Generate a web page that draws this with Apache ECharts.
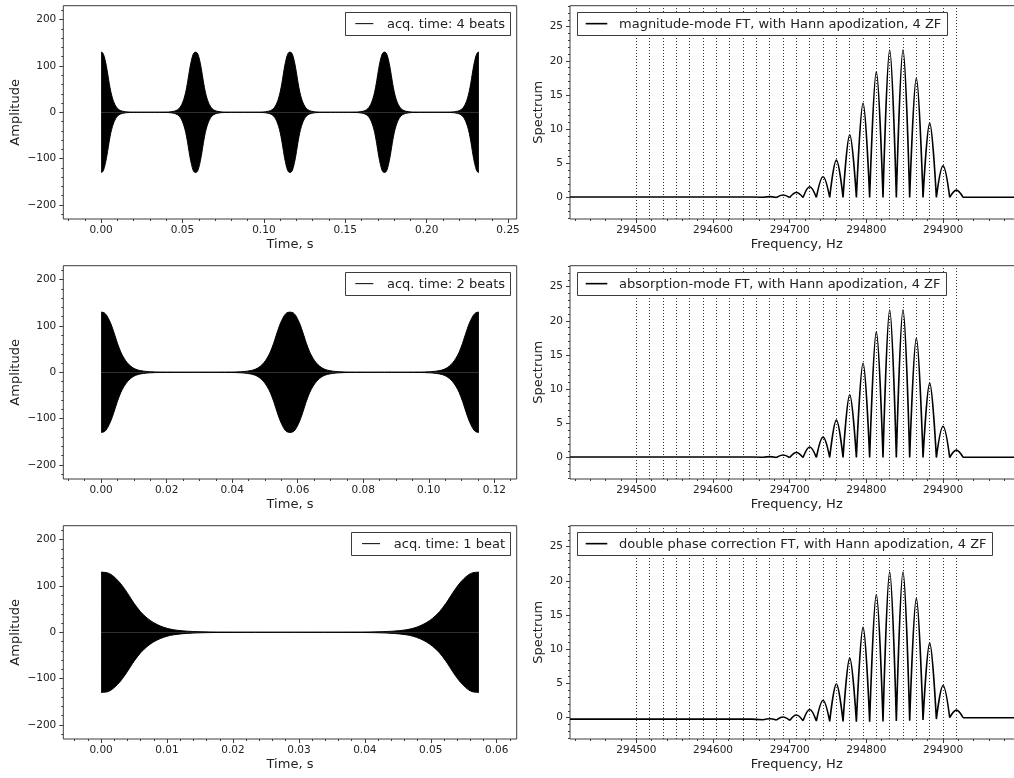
<!DOCTYPE html>
<html>
<head>
<meta charset="utf-8">
<script src="https://cdn.jsdelivr.net/npm/echarts@6/dist/echarts.min.js"></script>
<style>
  html, body { margin: 0; padding: 0; overflow: hidden; background: #fff; }
  #chart { width: 1030px; height: 778px; }
</style>
</head>
<body>
<div id="chart"></div>
<script>
// ---- time-domain transients -------------------------------------------
const TIME_BEATS = [4, 2, 1];
const TIME_ACQ = [0.2321, 0.1153, 0.0573];          // acquisition length, s
const TIME_LABELS = ['acq. time: 4 beats', 'acq. time: 2 beats', 'acq. time: 1 beat'];
const TIME_TICKS = [
  [0, 0.05, 0.10, 0.15, 0.20, 0.25],
  [0, 0.02, 0.04, 0.06, 0.08, 0.10, 0.12],
  [0, 0.01, 0.02, 0.03, 0.04, 0.05, 0.06]
];
const TIME_MINOR_STEP = [0.01, 0.005, 0.002];
const AMP_TICKS = [-200, -100, 0, 100, 200];

// envelope of one beat: offset from the beat centre (ms) and amplitude
const PULSE_MS  = [0, 0.5, 1, 1.5, 2, 2.5, 3, 3.5, 4, 4.5, 5, 6, 7, 8, 9, 10, 11, 12, 13, 15, 18, 22, 28];
const PULSE_AMP = [130, 129.5, 128.3, 125, 119.5, 112.5, 104.5, 95, 84.5, 73.5, 62.5, 44, 30.5, 20.5, 13.5, 8.5, 5.5, 3.6, 2.4, 1.1, 0.4, 0.2, 0.1];

// ---- spectra -------------------------------------------------------------
const DOT_FREQS = [294500, 294517.4, 294534.8, 294552.2, 294569.6, 294587.0, 294604.3, 294621.7,
  294639.1, 294656.5, 294673.9, 294691.3, 294708.7, 294726.1, 294743.5, 294760.9, 294778.3,
  294795.7, 294813.0, 294830.4, 294847.8, 294865.2, 294882.6, 294900.0, 294917.4];

// flat start, then alternating trough / peak, then flat end
const SPEC_FREQ = [294413.5, 294500, 294600, 294650, 294665.2,
  294673.9, 294682.6, 294691.3, 294700.0, 294708.7, 294717.4, 294726.1, 294734.8,
  294743.5, 294752.2, 294760.9, 294769.6, 294778.3, 294787.0, 294795.7, 294804.3,
  294813.0, 294821.7, 294830.4, 294839.1, 294847.8, 294856.5, 294865.2, 294873.9,
  294882.6, 294891.3, 294900.0, 294908.7, 294917.4, 294926.1, 294950, 295005];

const SPEC_MAG = [0.1, 0.1, 0.1, 0.1, 0.05,
  0.15, 0.03, 0.4, 0.03, 0.75, 0.03, 1.6, 0.03, 3.05, 0.03, 5.5, 0.03, 9.2, 0.03,
  13.8, 0.03, 18.4, 0.03, 21.6, 0.03, 21.6, 0.03, 17.5, 0.03, 10.9, 0.03, 4.65, 0.03, 1.1,
  0.05, 0.05, 0.05];
const SPEC_ABS = [0.1, 0.1, 0.1, 0.1, 0.05,
  0.15, 0.02, 0.4, 0.02, 0.75, 0.02, 1.55, 0.02, 3.0, 0.02, 5.5, 0.02, 9.2, 0.02,
  13.8, 0.02, 18.4, 0.02, 21.6, 0.02, 21.6, 0.02, 17.5, 0.02, 10.9, 0.02, 4.6, 0.02, 1.1,
  0.05, 0.05, 0.05];
const SPEC_DPC = [-0.22, -0.22, -0.22, -0.22, -0.3,
  -0.15, -0.35, 0.1, -0.4, 0.4, -0.45, 1.2, -0.5, 2.5, -0.55, 4.9, -0.55, 8.7, -0.6,
  13.2, -0.6, 18.0, -0.55, 21.3, -0.5, 21.3, -0.45, 17.45, -0.35, 10.9, -0.2, 4.7, 0.0, 1.1,
  0.0, -0.02, -0.02];
const SPEC_LABELS = [
  'magnitude-mode FT, with Hann apodization, 4 ZF',
  'absorption-mode FT, with Hann apodization, 4 ZF',
  'double phase correction FT, with Hann apodization, 4 ZF'
];
const FREQ_TICKS = [294500, 294600, 294700, 294800, 294900];
const SPEC_TICKS = [0, 5, 10, 15, 20, 25];

// ---- layout / style ------------------------------------------------------
const FONT = 'DejaVu Sans';
const AX = '#3c3c3c';
const TXT = '#222';
const LEFT_X = 63.3, RIGHT_X = 570, PW = 453.4, PH = 213.3;
const ROW_TOP = [5.7, 265.7, 525.7];
const AMP_RANGE = [-230.6, 230.3];
const SPEC_RANGE = [-3.12, 28.07];
const FREQ_RANGE = [294413.5, 295004.8];

function minorTicks(min, max, step, majors) {
  const out = [];
  const start = Math.ceil(min / step - 1e-9);
  for (let i = start; i * step <= max + 1e-12; i++) {
    const v = +(i * step).toFixed(6);
    if (!majors.some(m => Math.abs(m - v) < step * 1e-3)) out.push(v);
  }
  return out;
}

const minusFmt = v => (v < 0 ? '\u2212' + Math.abs(v) : String(v));

function axisPair(dir, g, min, max, majors, minors, fmt, name, nameGap) {
  const pos = dir === 'x' ? 'bottom' : 'left';
  const major = {
    type: 'value', gridIndex: g, min: min, max: max, position: pos,
    axisLine: { show: false, onZero: false }, splitLine: { show: false },
    axisTick: { show: true, length: 4, customValues: majors, lineStyle: { color: AX, width: 1 } },
    axisLabel: { customValues: majors, formatter: fmt, margin: dir === 'x' ? 6 : 7,
      color: TXT, fontSize: 10.5, fontFamily: FONT },
    name: name, nameLocation: 'middle', nameGap: nameGap,
    nameTextStyle: { fontSize: 13, fontFamily: FONT, color: TXT }
  };
  const minor = {
    type: 'value', gridIndex: g, min: min, max: max, position: pos,
    axisLine: { show: false, onZero: false }, splitLine: { show: false },
    axisLabel: { show: false },
    axisTick: { show: true, length: 2, customValues: minors, lineStyle: { color: AX, width: 1 } }
  };
  return [major, minor];
}

function envelope(L, N) {
  const T = L / N, half = T / 2;
  const pts = [];
  for (let k = 0; k <= N; k++) {
    const c = k * T;
    for (let i = PULSE_MS.length - 1; i >= 1; i--) {
      const off = PULSE_MS[i] / 1000;
      if (off >= half) continue;
      const t = c - off;
      if (t < 0) continue;
      pts.push([t, PULSE_AMP[i]]);
    }
    pts.push([c, PULSE_AMP[0]]);
    for (let i = 1; i < PULSE_MS.length; i++) {
      const off = PULSE_MS[i] / 1000;
      if (off >= half) break;
      const t = c + off;
      if (t > L) break;
      pts.push([t, PULSE_AMP[i]]);
    }
  }
  pts.sort((a, b) => a[0] - b[0]);
  return pts;
}

// Split a spectrum into the flat lead-in, one lobe per peak (trough-peak-trough)
// and the flat tail, with breaks between them so each lobe is smoothed on its own
// and the troughs stay sharp.
function spectrumSegments(vals) {
  const firstPeak = 5, lastPeak = SPEC_FREQ.length - 4;
  const pt = i => [SPEC_FREQ[i], vals[i]];
  const gap = i => [SPEC_FREQ[i], NaN];
  const out = [];
  for (let i = 0; i < firstPeak; i++) out.push(pt(i));
  for (let p = firstPeak; p <= lastPeak; p += 2) {
    out.push(gap(p - 1));
    out.push(pt(p - 1), pt(p), pt(p + 1));
  }
  out.push(gap(lastPeak + 1));
  for (let i = lastPeak + 1; i < SPEC_FREQ.length; i++) out.push(pt(i));
  return out;
}

const grids = [], xAxes = [], yAxes = [], series = [], graphics = [];
const measure = document.createElement('canvas').getContext('2d');
measure.font = '13px "' + FONT + '"';

function legendBox(x0, alignRight, top, text, lineLen, lineW, padL, gap, padR) {
  const tw = measure.measureText(text).width;
  const w = padL + lineLen + gap + tw + padR;
  const h = 22.7;
  const left = alignRight ? x0 - w : x0;
  const cy = top + h / 2;
  graphics.push({ type: 'rect', z: 100, shape: { x: Math.round(left) + 0.5, y: Math.round(top) + 0.5, width: Math.round(w), height: Math.round(h) },
    style: { fill: '#fff', stroke: AX, lineWidth: 1 } });
  graphics.push({ type: 'line', z: 101, shape: { x1: left + padL, y1: cy, x2: left + padL + lineLen, y2: cy },
    style: { stroke: '#000', lineWidth: lineW } });
  graphics.push({ type: 'text', z: 101, x: left + padL + lineLen + gap, y: cy + 0.5,
    style: { text: text, font: '13px "' + FONT + '"', fill: TXT, verticalAlign: 'middle', align: 'left' } });
}

// left column: transients, drawn as a filled envelope
for (let r = 0; r < 3; r++) {
  const g = grids.length;
  const L = TIME_ACQ[r];
  const xmin = -0.1 * L, xmax = 1.1 * L;
  grids.push({ left: LEFT_X, top: ROW_TOP[r], width: PW, height: PH, show: true,
    borderColor: AX, borderWidth: 1, backgroundColor: 'transparent' });
  xAxes.push(...axisPair('x', g, xmin, xmax, TIME_TICKS[r],
    minorTicks(xmin, xmax, TIME_MINOR_STEP[r], TIME_TICKS[r]), v => v.toFixed(2), 'Time, s', 19.5));
  yAxes.push(...axisPair('y', g, AMP_RANGE[0], AMP_RANGE[1], AMP_TICKS,
    minorTicks(AMP_RANGE[0], AMP_RANGE[1], 20, AMP_TICKS), minusFmt, 'Amplitude', 41));
  const env = envelope(L, TIME_BEATS[r]);
  const base = { type: 'line', xAxisIndex: 2 * g, yAxisIndex: 2 * g, symbol: 'none', showSymbol: false,
    smooth: 0.3, silent: true, lineStyle: { color: '#000', width: 1 },
    areaStyle: { color: '#000', opacity: 1, origin: 0 }, itemStyle: { color: '#000' } };
  series.push(Object.assign({}, base, { name: TIME_LABELS[r], data: env }));
  series.push(Object.assign({}, base, { name: TIME_LABELS[r] + ' (lower)', data: env.map(p => [p[0], -p[1]]) }));
  legendBox(510, true, 12.3 + ROW_TOP[r] - ROW_TOP[0], TIME_LABELS[r], 18, 1, 10.7, 13.7, 5);
}

// right column: spectra with the comb of expected peak positions
const SPEC_VALUES = [SPEC_MAG, SPEC_ABS, SPEC_DPC];
for (let r = 0; r < 3; r++) {
  const g = grids.length;
  grids.push({ left: RIGHT_X, top: ROW_TOP[r], width: PW, height: PH, show: true,
    borderColor: AX, borderWidth: 1, backgroundColor: 'transparent' });
  xAxes.push(...axisPair('x', g, FREQ_RANGE[0], FREQ_RANGE[1], FREQ_TICKS,
    minorTicks(FREQ_RANGE[0], FREQ_RANGE[1], 20, FREQ_TICKS), v => String(v), 'Frequency, Hz', 19.5));
  yAxes.push(...axisPair('y', g, SPEC_RANGE[0], SPEC_RANGE[1], SPEC_TICKS,
    minorTicks(SPEC_RANGE[0], SPEC_RANGE[1], 1, SPEC_TICKS), minusFmt, 'Spectrum', 25));
  series.push({
    type: 'line', name: SPEC_LABELS[r], xAxisIndex: 2 * g, yAxisIndex: 2 * g,
    data: spectrumSegments(SPEC_VALUES[r]), connectNulls: false,
    symbol: 'none', showSymbol: false, smooth: 0.38, silent: true,
    lineStyle: { color: '#000', width: 1.6, join: 'round' }, itemStyle: { color: '#000' },
    markLine: {
      silent: true, symbol: ['none', 'none'], label: { show: false },
      lineStyle: { type: [1, 2], color: '#333', width: 1 },
      data: DOT_FREQS.map(f => ({ xAxis: f }))
    }
  });
  legendBox(576.7, false, 12.3 + ROW_TOP[r] - ROW_TOP[0], SPEC_LABELS[r], 21.6, 1.6, 9, 11.7, 5);
}

const chart = echarts.init(document.getElementById('chart'), null, { renderer: 'canvas' });
chart.setOption({
  animation: false,
  backgroundColor: '#fff',
  textStyle: { fontFamily: FONT },
  grid: grids, xAxis: xAxes, yAxis: yAxes, series: series,
  graphic: { elements: graphics }
});
</script>
</body>
</html>
